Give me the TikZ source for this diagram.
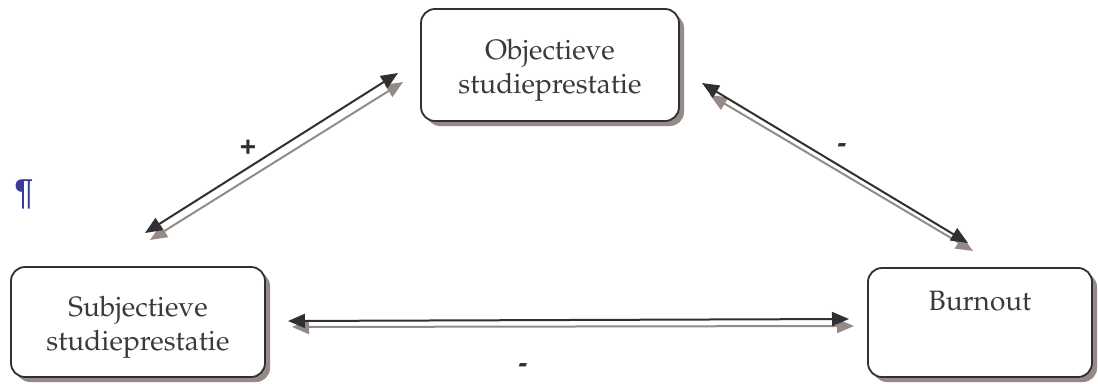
\documentclass[tikz,border=0pt]{standalone}
\usepackage[T1]{fontenc}
\usepackage{fontspec}
\usetikzlibrary{arrows.meta,shadows}
\newfontfamily\lblfont{Liberation Sans}
\newcommand\palfont{\fontencoding{T1}\fontfamily{ppl}\selectfont}
\newcommand\toppad{\rule{0pt}{30pt}}
\definecolor{inkdark}{RGB}{48,48,52}
\definecolor{textgray}{RGB}{58,58,60}
\definecolor{shadowgray}{RGB}{150,138,135}
\definecolor{markblue}{RGB}{58,58,156}
\tikzset{
  box/.style={draw=inkdark, line width=1.8pt, rounded corners=14pt, fill=white,
    align=center, text=textgray, inner sep=0pt,
    font=\palfont\fontsize{28}{34}\selectfont,
    drop shadow={shadow xshift=5pt, shadow yshift=-5pt, fill=shadowgray, opacity=1}},
  link/.style={line width=2pt, draw=inkdark, {Triangle[length=17pt,width=14pt]}-{Triangle[length=17pt,width=14pt]}},
  linkshadow/.style={line width=2pt, draw=shadowgray, fill=shadowgray, {Triangle[length=17pt,width=14pt]}-{Triangle[length=17pt,width=14pt]}},
  sign/.style={text=inkdark, font=\lblfont\bfseries\fontsize{28}{28}\selectfont, inner sep=0pt}
}
\begin{document}
\begin{tikzpicture}[x=1pt,y=-1pt]
\useasboundingbox (0,0) rectangle (1098,383);
% the three blocks
\node[box, minimum width=258pt, minimum height=112pt] (obj) at (550,65) {\toppad Objectieve\\studieprestatie};
\node[box, minimum width=254pt, minimum height=110pt] (subj) at (138,322) {\toppad Subjectieve\\studieprestatie};
\node[box, minimum width=224pt, minimum height=109pt] (burn) at (980,322.5) {Burnout\\[9pt]\phantom{s}};
% end points of the double-headed links
\coordinate (a1) at (145,233); \coordinate (a2) at (398,73);
\coordinate (a1s) at (150,240); \coordinate (a2s) at (403,82);
\coordinate (b1) at (702,83); \coordinate (b2) at (968,243);
\coordinate (b1s) at (710,95); \coordinate (b2s) at (973,251);
\coordinate (c1) at (288,321); \coordinate (c2) at (849,319);
\coordinate (c1s) at (292,327); \coordinate (c2s) at (854,326);
% shadows first, then the dark links
\draw[linkshadow] (a1s) -- (a2s);
\draw[linkshadow] (b1s) -- (b2s);
\draw[linkshadow] (c1s) -- (c2s);
\draw[link] (a1) -- (a2);
\draw[link] (b1) -- (b2);
\draw[link] (c1) -- (c2);
% signs
\node[sign] (plus) at (248,148) {+};
\node[sign, xslant=0.3] (minA) at (841,148) {-};
\node[sign, xslant=0.3] (minB) at (522,368) {-};
% paragraph mark
\node[text=markblue, font=\lblfont\fontsize{36}{36}\selectfont, inner sep=0pt] (pil) at (24,194) {¶};
\end{tikzpicture}
\end{document}
